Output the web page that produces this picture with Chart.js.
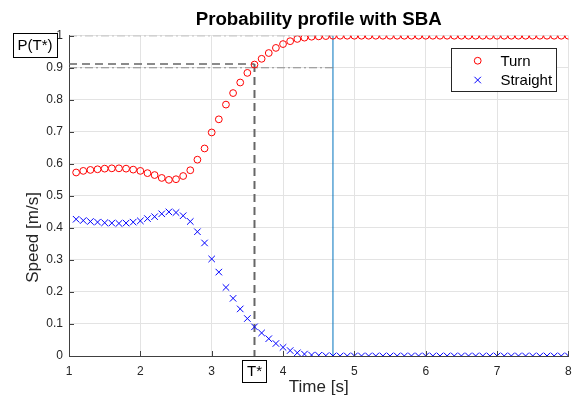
<!DOCTYPE html>
<html><head><meta charset="utf-8">
<script src="https://cdn.jsdelivr.net/npm/chart.js@4"></script>
<style>html,body{margin:0;padding:0;background:#fff;}canvas{display:block;}</style>
</head><body>
<canvas id="c" width="574" height="403"></canvas>
<script>
const times = [1.1,1.2,1.3,1.4,1.5,1.6,1.7,1.8,1.9,2.0,
  2.1,2.2,2.3,2.4,2.5,2.6,2.7,2.8,2.9,3.0,
  3.1,3.2,3.3,3.4,3.5,3.6,3.7,3.8,3.9,4.0,
  4.1,4.2,4.3,4.4,4.5,4.6,4.7,4.8,4.9,5.0,
  5.1,5.2,5.3,5.4,5.5,5.6,5.7,5.8,5.9,6.0,
  6.1,6.2,6.3,6.4,6.5,6.6,6.7,6.8,6.9,7.0,
  7.1,7.2,7.3,7.4,7.5,7.6,7.7,7.8,7.9,8.0];
const turn = [0.573,0.578,0.581,0.583,0.585,0.586,0.586,0.585,0.582,0.578,
  0.571,0.565,0.556,0.550,0.552,0.562,0.580,0.613,0.648,0.698,
  0.739,0.785,0.821,0.854,0.884,0.910,0.928,0.946,0.962,0.974,
  0.983,0.990,0.994,0.997,0.998,0.999,1,1,1,1,
  1,1,1,1,1,1,1,1,1,1,
  1,1,1,1,1,1,1,1,1,1,
  1,1,1,1,1,1,1,1,1,1];
const straight = [0.427,0.423,0.420,0.418,0.416,0.415,0.414,0.415,0.418,0.422,
  0.429,0.435,0.444,0.450,0.448,0.438,0.420,0.388,0.353,0.303,
  0.262,0.214,0.180,0.147,0.117,0.091,0.072,0.054,0.039,0.027,
  0.017,0.010,0.006,0.003,0.002,0.001,0,0,0,0,
  0,0,0,0,0,0,0,0,0,0,
  0,0,0,0,0,0,0,0,0,0,
  0,0,0,0,0,0,0,0,0,0];
const seriesNames = ['Turn','Straight'];
const xTickValues = [1,2,3,4,5,6,7,8];
const yTickLabels = ['0','0.1','0.2','0.3','0.4','0.5','0.6','0.7','0.8','0.9','1'];
const tStar = 3.6;      // T*
const pStar = 0.912;    // P(T*)
const tEnd = 4.7;
const pLow = 0.9;
const pHigh = 1;
const xMin = 1, xMax = 8, yMin = 0, yMax = 1;
const yAxisTitle = 'Speed [m/s]';

const FONT = "'Liberation Sans', Arial, Helvetica, sans-serif";
const pts = (xs, ys) => xs.map((x, i) => ({x: x, y: ys[i]}));

const refLine = (data, color, width, dash) => ({
  data: data, showLine: true, pointRadius: 0, pointHoverRadius: 0,
  borderColor: color, borderWidth: width, borderDash: dash, fill: false
});

const extras = {
  id: 'extras',
  afterDraw(chart) {
    const ctx = chart.ctx, xs = chart.scales.x, ys = chart.scales.y, ca = chart.chartArea;
    ctx.save();
    // inward tick marks
    ctx.strokeStyle = '#404040'; ctx.lineWidth = 1;
    ctx.beginPath();
    xTickValues.forEach(v => {
      const px = Math.round(xs.getPixelForValue(v)) + 0.5;
      ctx.moveTo(px, ca.bottom); ctx.lineTo(px, ca.bottom - 5);
    });
    yTickLabels.forEach(l => {
      const py = Math.round(ys.getPixelForValue(parseFloat(l))) + 0.5;
      ctx.moveTo(ca.left, py); ctx.lineTo(ca.left + 5, py);
    });
    ctx.stroke();
    // y axis title
    ctx.save();
    ctx.translate(33, ys.getPixelForValue(0.37));
    ctx.rotate(-Math.PI / 2);
    ctx.font = '17px ' + FONT; ctx.fillStyle = '#262626';
    ctx.textAlign = 'center'; ctx.textBaseline = 'middle';
    ctx.fillText(yAxisTitle, 0, 0);
    ctx.restore();
    // legend
    const lw = 105, lh = 43;
    const lx = ca.right - 12 - lw, ly = ca.top + 12;
    ctx.fillStyle = '#fff';
    ctx.fillRect(lx, ly, lw, lh);
    ctx.strokeStyle = '#262626'; ctx.lineWidth = 1;
    ctx.strokeRect(Math.round(lx) + 0.5, Math.round(ly) + 0.5, lw, lh);
    ctx.font = '15px ' + FONT; ctx.textBaseline = 'middle'; ctx.textAlign = 'left';
    [0, 1].forEach(i => {
      const ds = chart.data.datasets[i];
      const yy = ly + 13 + i * 19.3;
      ctx.strokeStyle = ds.borderColor; ctx.lineWidth = 1;
      Chart.helpers.drawPoint(ctx, {pointStyle: ds.pointStyle, radius: ds.pointRadius, borderWidth: 1, rotation: 0}, lx + 26.3, yy);
      ctx.fillStyle = '#000';
      ctx.fillText(seriesNames[i], lx + 49, yy + 1);
    });
    // annotation boxes
    const box = (text, cx, cy, w, h) => {
      ctx.fillStyle = '#fff';
      ctx.fillRect(cx - w / 2, cy - h / 2, w, h);
      ctx.strokeStyle = '#000'; ctx.lineWidth = 1;
      ctx.strokeRect(Math.round(cx - w / 2) + 0.5, Math.round(cy - h / 2) + 0.5, w, h);
      ctx.fillStyle = '#000'; ctx.font = '15px ' + FONT;
      ctx.textAlign = 'center'; ctx.textBaseline = 'middle';
      ctx.fillText(text, cx, cy + 1);
    };
    box('P(T*)', 35, ys.getPixelForValue(0.97), 44, 24);
    box('T*', xs.getPixelForValue(tStar), ca.bottom + 15, 24, 22);
    ctx.restore();
  }
};

new Chart(document.getElementById('c'), {
  type: 'scatter',
  data: {
    datasets: [
      { label: seriesNames[0], data: pts(times, turn), pointStyle: 'circle', pointRadius: 3.4,
        pointHoverRadius: 3.4, borderColor: '#ff0000', backgroundColor: 'rgba(0,0,0,0)', borderWidth: 1 },
      { label: seriesNames[1], data: pts(times, straight), pointStyle: 'crossRot', pointRadius: 4.6,
        pointHoverRadius: 4.6, borderColor: '#0000ff', backgroundColor: '#0000ff', borderWidth: 1 },
      refLine([{x: xMin, y: pHigh}, {x: tEnd, y: pHigh}], '#8a8a8a', 1, [8, 3, 2, 3]),
      refLine([{x: xMin, y: pLow}, {x: tEnd, y: pLow}], '#8a8a8a', 1, [8, 3, 2, 3]),
      refLine([{x: xMin, y: pStar}, {x: tStar, y: pStar}], '#666666', 1.5, [8, 5]),
      refLine([{x: tStar, y: pStar}, {x: tStar, y: yMin}], '#666666', 2, [8, 5]),
      refLine([{x: tEnd, y: yMin}, {x: tEnd, y: yMax}], '#0072BD', 1, [])
    ]
  },
  options: {
    responsive: false, animation: false, devicePixelRatio: 1,
    layout: { padding: { left: 0, right: 5, top: 0, bottom: 0 } },
    plugins: {
      legend: { display: false }, tooltip: { enabled: false },
      title: { display: true, text: 'Probability profile with SBA', fullSize: false, color: '#000',
        font: { family: FONT, size: 18.7, weight: 'bold' }, padding: { top: 9, bottom: 4.3 } }
    },
    scales: {
      x: {
        type: 'linear', min: xMin, max: xMax,
        ticks: { stepSize: 1, color: '#262626', font: { family: FONT, size: 12 }, padding: 8, maxRotation: 0 },
        grid: { color: '#e3e3e3', drawTicks: false },
        border: { display: true, color: '#404040', width: 1 },
        title: { display: true, text: 'Time [s]', color: '#262626', font: { family: FONT, size: 17 }, padding: { top: 0, bottom: 5 } },
        afterFit: s => { s.height = 47; s.paddingLeft = 0; s.paddingRight = 0; }
      },
      y: {
        type: 'linear', min: yMin, max: yMax,
        ticks: { stepSize: 0.1, color: '#262626', font: { family: FONT, size: 12 }, padding: 6,
          callback: v => yTickLabels[Math.round(v * 10)] },
        grid: { color: '#e3e3e3', drawTicks: false },
        border: { display: true, color: '#404040', width: 1 },
        title: { display: false },
        afterFit: s => { s.width = 69; s.paddingTop = 0; s.paddingBottom = 0; }
      }
    }
  },
  plugins: [extras]
});
</script>
</body></html>
